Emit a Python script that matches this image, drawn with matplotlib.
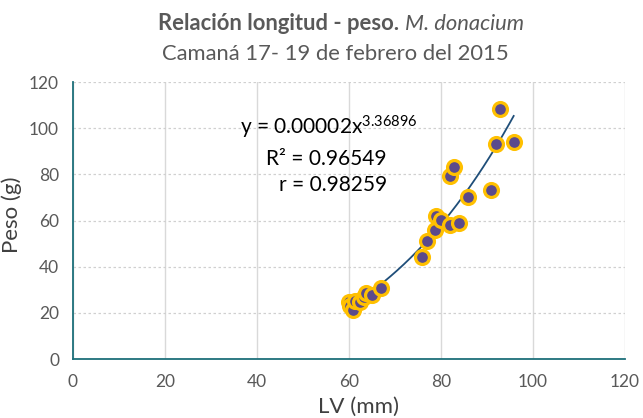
import matplotlib
matplotlib.use("Agg")
import matplotlib.pyplot as plt
import numpy as np

plt.rcParams["font.family"] = ["Lato", "DejaVu Sans"]
plt.rcParams["mathtext.fontset"] = "custom"
plt.rcParams["mathtext.rm"] = "Lato"
plt.rcParams["mathtext.it"] = "Lato:italic"

GREY_TXT = "#595959"
LABEL_TXT = "#404040"
TEAL = "#1d6f7a"
PURPLE, GOLD, LINE = "#5b4a8c", "#ffc000", "#1f4e79"

# length (mm) and weight (g)
lv = [60.0, 60.3, 60.8, 61.3, 62.4, 63.2, 63.8, 64.9, 67.0, 75.8, 77.0, 78.8,
      78.9, 80.0, 81.9, 84.0, 85.8, 81.9, 82.8, 90.8, 91.9, 92.8, 95.8]
peso = [24.8, 23.0, 21.3, 25.0, 24.8, 27.0, 28.4, 27.7, 30.6, 44.3, 51.2, 55.9,
        62.1, 60.4, 57.9, 58.8, 70.2, 79.1, 83.1, 73.2, 93.2, 108.3, 94.0]
ticks = [0, 20, 40, 60, 80, 100, 120]

# power trendline fitted in log space (as Excel does)
b, ln_a = np.polyfit(np.log(lv), np.log(peso), 1)
xs = np.linspace(min(lv), max(lv), 200)
ys = np.exp(ln_a) * xs ** b

fig = plt.figure(figsize=(6.43, 4.18), dpi=100)
ax = fig.add_axes([0.1135, 0.1411, 0.8585, 0.6627])

ax.plot(xs, ys, color=LINE, lw=1.3, zorder=2)
ax.plot(lv, peso, ls="none", marker="o", ms=10, mfc=PURPLE, mec=GOLD, mew=2.3, zorder=3)

ax.set_xlim(0, 120)
ax.set_ylim(0, 120)
ax.set_xticks(ticks)
ax.set_yticks(ticks)
ax.tick_params(length=0, labelsize=12.5, labelcolor=GREY_TXT)
ax.tick_params(axis="x", pad=11)
ax.tick_params(axis="y", pad=10)
ax.xaxis.grid(True, color="#d9d9d9", lw=1, ls="-")
ax.yaxis.grid(True, color="#d0d0d0", lw=0.9, ls=(0, (2, 2)))
ax.set_axisbelow(True)
for s in ["top", "right"]:
    ax.spines[s].set_visible(False)
for s in ["left", "bottom"]:
    ax.spines[s].set_color(TEAL)
    ax.spines[s].set_linewidth(1.3)

ax.set_xlabel("LV (mm)", fontsize=16, color=LABEL_TXT)
ax.xaxis.set_label_coords(0.517, -0.135)
ax.set_ylabel("Peso (g)", fontsize=16, color=LABEL_TXT)
ax.yaxis.set_label_coords(-0.092, 0.52)

# equation labels
ax.text(36.2, 100.5, "y = 0.00002x$^{3.36896}$", fontsize=15, color="black", va="center")
ax.text(68.2, 86.5, "R² = 0.96549", fontsize=15, color="black", va="center", ha="right")
ax.text(68.2, 75.5, "r = 0.98259", fontsize=15, color="black", va="center", ha="right")

# title: bold part + italic part on one line
fig.canvas.draw()
r = fig.canvas.get_renderer()
t1 = fig.text(0, 0.943, "Relación longitud - peso. ", fontsize=15.8, fontweight="bold",
              color=GREY_TXT, va="center")
t2 = fig.text(0, 0.943, "M. donacium", fontsize=15.8, style="italic", color=GREY_TXT, va="center")
w1 = t1.get_window_extent(r).width
w2 = t2.get_window_extent(r).width
x0 = 341 - (w1 + w2) / 2
t1.set_x(x0 / 643)
t2.set_x((x0 + w1) / 643)
fig.text(335 / 643, 0.872, "Camaná 17- 19 de febrero del 2015", fontsize=15.8,
         color=GREY_TXT, ha="center", va="center")

fig.savefig("out.png", dpi=100)
